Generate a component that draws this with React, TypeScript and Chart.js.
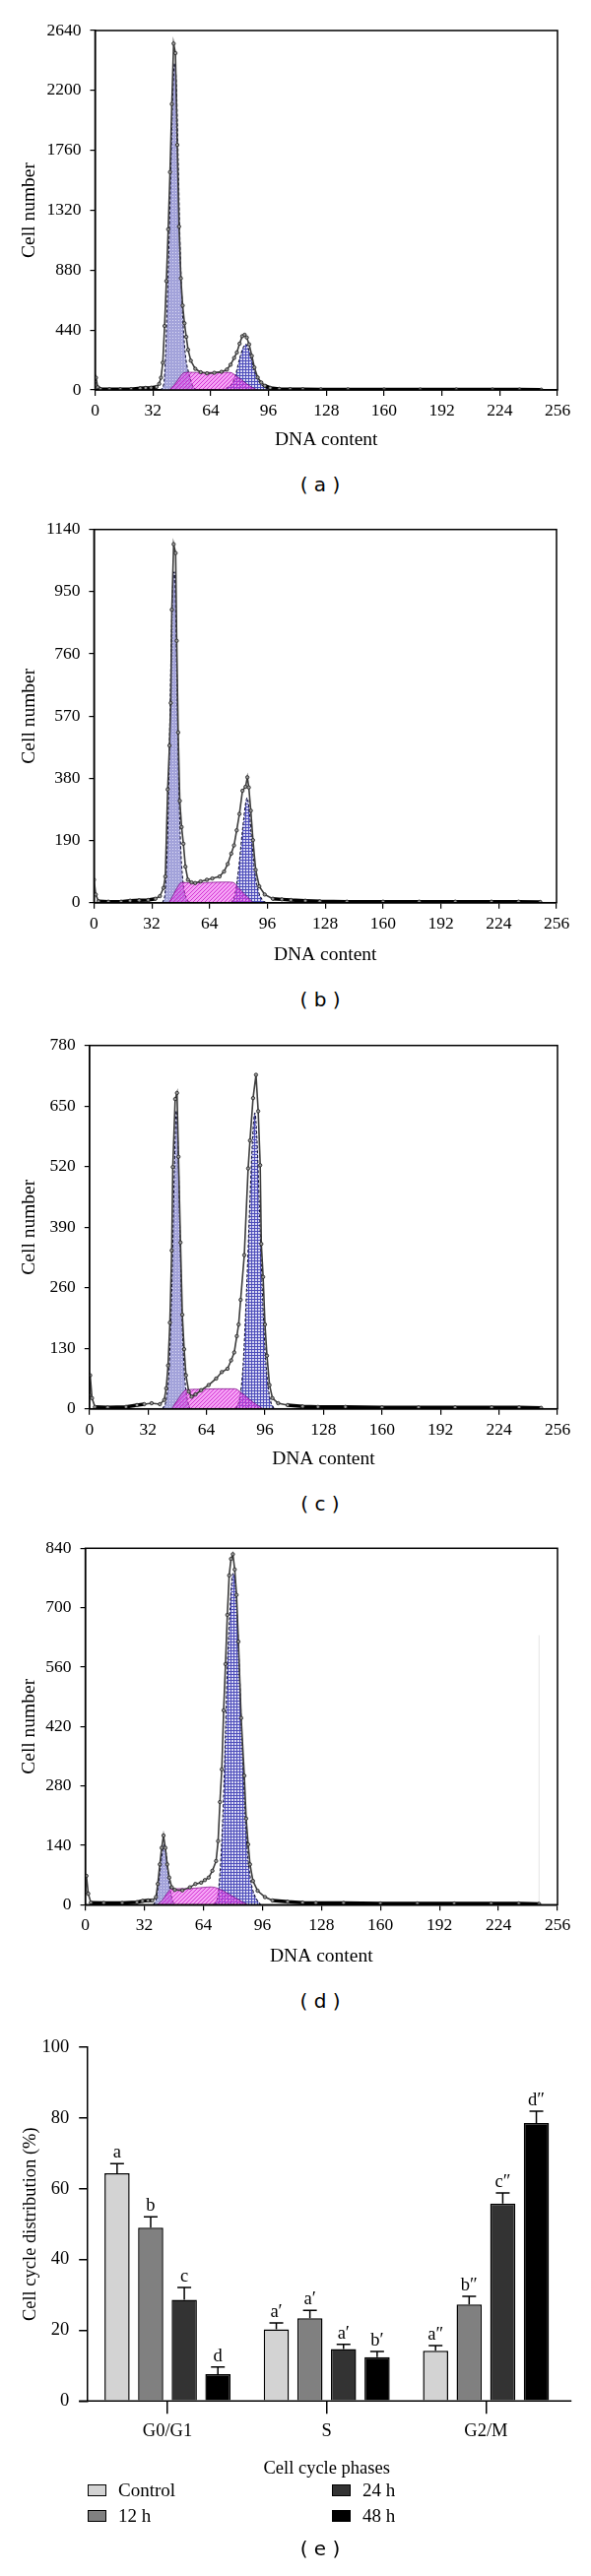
import React, { useEffect, useRef } from "react";
import { Chart, registerables } from "chart.js";
Chart.register(...registerables);

const SERIF = '"Liberation Serif", "Times New Roman", serif';
const SANS = '"DejaVu Sans", Verdana, sans-serif';

// ---------------- axis ticks ----------------
const dnaTicks = [0, 32, 64, 96, 128, 160, 192, 224, 256];
const aCellTicks = [0, 440, 880, 1320, 1760, 2200, 2640];
const bCellTicks = [0, 190, 380, 570, 760, 950, 1140];
const cCellTicks = [0, 130, 260, 390, 520, 650, 780];
const dCellTicks = [0, 140, 280, 420, 560, 700, 840];
const pctTicks = [0, 20, 40, 60, 80, 100];

// ---------------- panel (a) ----------------
const aRawDna = [0, 0.5, 1.5, 3, 8, 14, 20, 25, 28, 31, 34, 35.5, 36.5, 37.5, 38.5, 39.5, 40.5, 41.5, 42.5, 43.5, 44.5, 45.5, 46.5, 47.5, 48.5, 49.5, 50.5, 51.5, 53, 55.5, 58.5, 62, 66, 70, 73, 75, 77, 78.5, 80, 81.5, 82.8, 84, 85.3, 86.8, 88.2, 90, 92, 94, 97, 102, 108, 115, 125, 140, 160, 180, 200, 220, 235, 247];
const aRawCells = [60, 90, 20, 6, 5, 5, 6, 12, 15, 16, 22, 45, 90, 200, 470, 800, 1180, 1600, 2100, 2544, 2474, 1800, 1200, 820, 620, 490, 390, 295, 215, 155, 130, 122, 126, 133, 150, 185, 235, 275, 340, 395, 405, 385, 335, 250, 165, 92, 55, 31, 15, 8, 6, 5, 4, 4, 3, 3, 3, 3, 3, 2];
const aG1Dna = [36, 38, 39, 40, 41, 42, 43, 44, 45, 46, 47, 48, 49, 50, 51, 52, 53, 54, 56];
const aG1Cells = [0, 40, 250, 650, 1100, 1650, 2150, 2400, 2250, 1700, 1100, 700, 430, 260, 170, 120, 70, 30, 0];
const aSDna = [41, 44, 47, 49, 52, 60, 68, 75, 78, 81, 84, 87, 90];
const aSCells = [0, 40, 95, 125, 130, 128, 130, 128, 105, 75, 45, 18, 0];
const aG2Dna = [70, 73, 76, 78, 80, 82, 83.5, 85, 86.5, 88, 90, 92, 95, 98];
const aG2Cells = [0, 15, 50, 120, 230, 310, 335, 300, 230, 150, 80, 40, 12, 0];

// ---------------- panel (b) ----------------
const bRawDna = [0, 1, 2.5, 8, 15, 20, 25, 30, 34, 36.5, 38.5, 39.5, 40.8, 41.8, 42.5, 43.1, 44.1, 45.2, 45.8, 46.6, 47.5, 48.5, 49.5, 50.6, 52, 54, 56, 59, 62.5, 65.5, 69.5, 72, 74, 76, 77.5, 79, 80.5, 82.2, 83.9, 84.9, 85.7, 86.8, 88, 89.5, 91.5, 94.5, 99, 104, 109, 117, 125, 140, 160, 180, 200, 220, 235, 247];
const bRawCells = [70, 25, 4, 3, 3, 6, 7, 8, 12, 20, 45, 80, 346, 480, 610, 895, 1095, 1068, 800, 520, 311, 231, 180, 110, 70, 62, 60, 65, 70, 74, 80, 95, 118, 150, 175, 221, 271, 342, 354, 383, 352, 281, 191, 100, 50, 25, 12, 10, 8, 6, 4, 3, 3, 3, 3, 3, 3, 2];
const bG1Dna = [38, 39.5, 41, 42, 43, 44, 44.5, 45, 46, 47, 48, 49, 50, 52, 53];
const bG1Cells = [0, 40, 250, 550, 850, 1000, 1010, 950, 650, 350, 170, 80, 35, 5, 0];
const bSDna = [41.5, 44, 46.5, 48.5, 56, 64, 72, 77, 80, 83, 86, 88];
const bSCells = [0, 25, 50, 62, 60, 62, 63, 62, 45, 28, 12, 0];
const bG2Dna = [76, 78, 80, 82, 84, 84.8, 86, 87.5, 89, 91, 93, 95];
const bG2Cells = [0, 25, 100, 210, 305, 320, 280, 180, 95, 35, 10, 0];

// ---------------- panel (c) ----------------
const cRawDna = [0, 0.4, 1.4, 3, 10, 20, 26, 30, 34, 38.5, 40.9, 42, 43, 44, 45, 45.6, 46.9, 47.9, 48.7, 49.8, 50.8, 51.8, 52.8, 54.3, 55.9, 58, 61.1, 65.2, 69.3, 72.4, 75.5, 77.5, 79.2, 80.6, 81.6, 82.7, 84.7, 86.8, 87.8, 89.5, 91.1, 92.3, 93.4, 94, 95, 96, 97.1, 98.5, 100.1, 103.2, 108.4, 116.6, 125, 140, 160, 180, 200, 220, 235, 247];
const cRawCells = [30, 72, 23, 4, 3, 4, 8, 10, 12, 10, 19, 44, 93, 185, 340, 519, 665, 678, 541, 357, 202, 128, 72, 37, 26, 31, 40, 51, 65, 79, 86, 104, 121, 156, 181, 234, 330, 516, 576, 667, 717, 639, 523, 354, 283, 181, 114, 51, 23, 12, 8, 5, 4, 4, 3, 3, 3, 3, 3, 2];
const cG1Dna = [40, 42, 43.5, 45, 46.5, 47.5, 48.5, 49.5, 50.5, 51.5, 52.5, 54, 55];
const cG1Cells = [0, 20, 80, 250, 520, 640, 560, 380, 210, 110, 50, 12, 0];
const cSDna = [45, 48, 50.5, 53, 60, 70, 79.5, 83, 87, 91, 95];
const cSCells = [0, 18, 32, 41, 42, 43, 43, 35, 22, 10, 0];
const cG2Dna = [80, 82, 84, 86, 88, 89.5, 90.5, 91.5, 93, 94.5, 96, 97.5, 99, 101];
const cG2Cells = [0, 20, 90, 260, 470, 600, 635, 590, 430, 260, 130, 55, 18, 0];

// ---------------- panel (d) ----------------
const dRawDna = [0, 0.6, 1.6, 3, 10, 20, 28, 31, 34, 36.3, 38.3, 39.3, 40.4, 41.4, 42.4, 43.4, 44.4, 45.5, 46.9, 48.5, 52.6, 56.7, 59.7, 62.8, 64.8, 66.9, 68.9, 70.9, 72, 73, 74, 75, 76, 77, 78, 79, 80, 81, 82, 83, 84.5, 86.2, 87.2, 88.3, 89.3, 90.9, 93.4, 97.4, 101.5, 109.7, 117.8, 125, 140, 160, 180, 200, 220, 235, 246];
const dRawCells = [30, 68, 26, 5, 4, 4, 6, 9, 10, 10, 18, 49, 95, 134, 163, 134, 95, 64, 41, 35, 34, 41, 49, 52, 58, 64, 80, 103, 150, 242, 319, 458, 567, 683, 776, 815, 826, 790, 730, 620, 440, 304, 203, 142, 95, 56, 33, 18, 10, 7, 5, 4, 4, 3, 3, 3, 3, 3, 2];
const dG1Dna = [37, 38.5, 40, 41.5, 42.8, 44, 45, 46, 47.5, 48.5];
const dG1Cells = [0, 15, 60, 115, 142, 115, 70, 35, 8, 0];
const dSDna = [39, 42, 44.5, 46.5, 55, 62, 68, 71, 75, 79, 83, 88];
const dSCells = [0, 12, 28, 37, 38, 40, 42, 40, 32, 22, 12, 0];
const dG2Dna = [70, 72, 74, 75.5, 77, 78.5, 80, 81, 82, 83.5, 85, 86.5, 88, 90, 92, 95];
const dG2Cells = [0, 25, 150, 330, 560, 700, 780, 775, 710, 560, 380, 230, 120, 50, 20, 0];
const dFaintDna = [246, 246];
const dFaintCells = [0, 635];

// ---------------- panel (e) ----------------
const phases = ["G0/G1", "S", "G2/M"];
const groupNames = ["Control", "12 h", "24 h", "48 h"];
const pctControl = [64.4, 20.3, 14.2];
const pct12h = [49.0, 23.4, 27.3];
const pct24h = [28.6, 14.7, 55.8];
const pct48h = [7.6, 12.4, 78.6];
const errControl = [2.7, 1.8, 1.5];
const err12h = [3.1, 2.2, 2.3];
const err24h = [3.5, 1.3, 3.0];
const err48h = [2.0, 1.6, 3.3];
const sigControl = ["a", "a\u2032", "a\u2033"];
const sig12h = ["b", "a\u2032", "b\u2033"];
const sig24h = ["c", "a\u2032", "c\u2033"];
const sig48h = ["d", "b\u2032", "d\u2033"];

const groupColors = ["#d3d3d3", "#808080", "#333333", "#000000"];

type Series = [number[], number[]];

function xy(s: Series) {
  return s[0].map((x, i) => ({ x, y: s[1][i] }));
}

function makePatterns(ctx: CanvasRenderingContext2D) {
  const tile = (w: number, h: number, draw: (c: CanvasRenderingContext2D) => void) => {
    const c = document.createElement("canvas");
    c.width = w;
    c.height = h;
    const cx = c.getContext("2d")!;
    draw(cx);
    return ctx.createPattern(c, "repeat");
  };
  const dots = tile(3, 3, (c) => {
    c.fillStyle = "rgba(155,155,215,0.92)";
    c.fillRect(0, 0, 3, 3);
    c.fillStyle = "rgba(222,222,246,0.95)";
    c.fillRect(1, 1, 1, 1);
  });
  const grid = tile(3, 3, (c) => {
    c.fillStyle = "rgba(205,205,240,0.8)";
    c.fillRect(0, 0, 3, 3);
    c.fillStyle = "rgba(75,75,185,0.95)";
    c.fillRect(0, 0, 3, 1);
    c.fillRect(0, 0, 1, 3);
  });
  const hatch = tile(4, 4, (c) => {
    c.fillStyle = "rgba(235,70,235,0.5)";
    c.fillRect(0, 0, 4, 4);
    c.fillStyle = "rgba(200,20,200,0.75)";
    for (let i = 0; i < 4; i++) c.fillRect(i, 3 - i, 1, 1);
  });
  return { dots, grid, hatch };
}

const boxPlugin = {
  id: "box",
  afterDraw(chart: any) {
    const { ctx, chartArea: a } = chart;
    ctx.save();
    ctx.strokeStyle = "#000";
    ctx.lineWidth = 1.5;
    ctx.strokeRect(a.left, a.top, a.right - a.left, a.bottom - a.top);
    ctx.restore();
  },
};

type HistProps = {
  L: number;
  R: number;
  T: number;
  B: number;
  titleY: number;
  yTicks: number[];
  raw: Series;
  g1: Series;
  s: Series;
  g2: Series;
  faint?: Series;
};

function Histogram(p: HistProps) {
  const ref = useRef<HTMLCanvasElement>(null);
  const canvasTop = Math.round(p.T - 22);
  const canvasH = Math.round(p.titleY + 16 - canvasTop);
  useEffect(() => {
    const cv = ref.current!;
    const ctx = cv.getContext("2d")!;
    const pats = makePatterns(ctx);
    const ymax = p.yTicks[p.yTicks.length - 1];
    const low = ymax * 0.015;
    const datasets: any[] = [
      {
        label: "Data",
        data: xy(p.raw),
        borderColor: "#333",
        borderWidth: 1.6,
        segment: {
          borderWidth: (c: any) => (c.p0.parsed.y <= low && c.p1.parsed.y <= low ? 3.5 : 1.6),
          borderColor: (c: any) => (c.p0.parsed.y <= low && c.p1.parsed.y <= low ? "#000" : "#3c3c3c"),
        },
        pointRadius: 1.7,
        pointBackgroundColor: "#9a9a9a",
        pointBorderColor: "#1c1c1c",
        pointBorderWidth: 0.8,
        fill: false,
        tension: 0,
        order: 0,
      },
      {
        label: "S",
        data: xy(p.s),
        backgroundColor: pats.hatch,
        borderColor: "rgba(110,0,120,0.85)",
        borderWidth: 0.8,
        pointRadius: 0,
        fill: "origin",
        cubicInterpolationMode: "monotone",
        order: 1,
      },
      {
        label: "G0/G1",
        data: xy(p.g1),
        backgroundColor: pats.dots,
        borderColor: "#15153a",
        borderWidth: 1.1,
        borderDash: [3, 2],
        pointRadius: 0,
        fill: "origin",
        cubicInterpolationMode: "monotone",
        order: 2,
      },
      {
        label: "G2/M",
        data: xy(p.g2),
        backgroundColor: pats.grid,
        borderColor: "#15153a",
        borderWidth: 1.1,
        borderDash: [3, 2],
        pointRadius: 0,
        fill: "origin",
        cubicInterpolationMode: "monotone",
        order: 2,
      },
    ];
    if (p.faint) {
      datasets.push({
        label: "",
        data: xy(p.faint),
        borderColor: "#e4e4e4",
        borderWidth: 1,
        pointRadius: 0,
        fill: false,
        order: 3,
      });
    }
    const titleLH = 19.5 * 1.2;
    const chart = new Chart(ctx, {
      type: "line",
      data: { datasets },
      options: {
        responsive: false,
        animation: false,
        devicePixelRatio: 1,
        layout: { padding: { left: 0, right: 600 - p.R, top: p.T - canvasTop, bottom: 0 } },
        plugins: { legend: { display: false }, tooltip: { enabled: false } },
        scales: {
          x: {
            type: "linear",
            min: dnaTicks[0],
            max: dnaTicks[dnaTicks.length - 1],
            afterBuildTicks: (s: any) => {
              s.ticks = dnaTicks.map((v) => ({ value: v }));
            },
            afterFit: (s: any) => {
              s.height = canvasH - (p.B - canvasTop);
            },
            ticks: {
              font: { family: SERIF, size: 17.5 },
              color: "#000",
              padding: 5,
              maxRotation: 0,
              autoSkip: false,
              callback: (v: any) => String(v),
            },
            grid: { drawOnChartArea: false, tickLength: 6, color: "#000", lineWidth: 1.2 },
            border: { color: "#000", width: 1.5 },
            title: {
              display: true,
              text: "DNA content",
              color: "#000",
              font: { family: SERIF, size: 19.5 },
              padding: { top: 0, bottom: canvasH - (p.titleY - canvasTop) - titleLH / 2 },
            },
          },
          y: {
            type: "linear",
            min: p.yTicks[0],
            max: ymax,
            afterBuildTicks: (s: any) => {
              s.ticks = p.yTicks.map((v) => ({ value: v }));
            },
            afterFit: (s: any) => {
              s.width = p.L;
            },
            ticks: {
              font: { family: SERIF, size: 17.5 },
              color: "#000",
              padding: 9,
              autoSkip: false,
              callback: (v: any) => String(v),
            },
            grid: { drawOnChartArea: false, tickLength: 5, color: "#000", lineWidth: 1.2 },
            border: { color: "#000", width: 1.5 },
            title: {
              display: true,
              text: "Cell number",
              color: "#000",
              font: { family: SERIF, size: 19.5 },
              padding: { top: 30 - titleLH / 2, bottom: 0 },
            },
          },
        },
      },
      plugins: [boxPlugin],
    } as any);
    return () => chart.destroy();
  }, []);
  return (
    <canvas
      ref={ref}
      width={600}
      height={canvasH}
      style={{ position: "absolute", left: 0, top: canvasTop, width: 600, height: canvasH }}
    />
  );
}

function BarPanel() {
  const ref = useRef<HTMLCanvasElement>(null);
  const L = 89.2;
  const R = 574.2;
  const T = 2077.3;
  const B = 2438.3;
  const titleY = 2507;
  const canvasTop = 2058;
  const canvasH = Math.round(titleY + 16 - canvasTop);
  useEffect(() => {
    const ctx = ref.current!.getContext("2d")!;
    const values = [pctControl, pct12h, pct24h, pct48h];
    const errs = [errControl, err12h, err24h, err48h];
    const sigs = [sigControl, sig12h, sig24h, sig48h];
    const titleLH = 18.5 * 1.2;
    const errPlugin = {
      id: "errbars",
      afterDatasetsDraw(chart: any) {
        const c = chart.ctx;
        const ys = chart.scales.y;
        const a = chart.chartArea;
        c.save();
        c.strokeStyle = "#000";
        c.lineWidth = 1.5;
        c.fillStyle = "#000";
        c.font = `18.5px ${SERIF}`;
        c.textAlign = "center";
        c.textBaseline = "middle";
        chart.data.datasets.forEach((ds: any, i: number) => {
          const meta = chart.getDatasetMeta(i);
          meta.data.forEach((bar: any, j: number) => {
            const v = ds.data[j];
            const yTop = ys.getPixelForValue(v + errs[i][j]);
            c.beginPath();
            c.moveTo(bar.x, bar.y);
            c.lineTo(bar.x, yTop);
            c.moveTo(bar.x - 7, yTop);
            c.lineTo(bar.x + 7, yTop);
            c.stroke();
            c.fillText(sigs[i][j], bar.x, yTop - 11);
          });
        });
        c.beginPath();
        c.moveTo(a.left - 9, a.bottom);
        c.lineTo(a.right + 6, a.bottom);
        c.stroke();
        c.restore();
      },
    };
    const chart = new Chart(ctx, {
      type: "bar",
      data: {
        labels: phases,
        datasets: groupNames.map((n, i) => ({
          label: n,
          data: values[i],
          backgroundColor: groupColors[i],
          borderColor: "#000",
          borderWidth: 1.5,
          barPercentage: 0.75,
          categoryPercentage: 0.844,
        })),
      },
      options: {
        responsive: false,
        animation: false,
        devicePixelRatio: 1,
        layout: { padding: { left: 0, right: 600 - R, top: T - canvasTop, bottom: 0 } },
        plugins: { legend: { display: false }, tooltip: { enabled: false } },
        scales: {
          x: {
            afterFit: (s: any) => {
              s.height = canvasH - (B - canvasTop);
            },
            ticks: { font: { family: SERIF, size: 18.5 }, color: "#000", padding: 7, maxRotation: 0 },
            grid: { offset: false, drawOnChartArea: false, tickLength: 13, color: "#000", lineWidth: 1.5 },
            border: { display: false },
            title: {
              display: true,
              text: "Cell cycle phases",
              color: "#000",
              font: { family: SERIF, size: 18.5 },
              padding: { top: 0, bottom: canvasH - (titleY - canvasTop) - titleLH / 2 },
            },
          },
          y: {
            min: pctTicks[0],
            max: pctTicks[pctTicks.length - 1],
            afterBuildTicks: (s: any) => {
              s.ticks = pctTicks.map((v) => ({ value: v }));
            },
            afterFit: (s: any) => {
              s.width = L;
            },
            ticks: { font: { family: SERIF, size: 18.5 }, color: "#000", padding: 10, callback: (v: any) => String(v) },
            grid: { drawOnChartArea: false, tickLength: 9, color: "#000", lineWidth: 1.5 },
            border: { color: "#000", width: 1.5 },
            title: {
              display: true,
              text: "Cell cycle distribution (%)",
              color: "#000",
              font: { family: SERIF, size: 18.5 },
              padding: { top: 31 - titleLH / 2, bottom: 0 },
            },
          },
        },
      },
      plugins: [errPlugin],
    } as any);
    return () => chart.destroy();
  }, []);
  return (
    <canvas
      ref={ref}
      width={600}
      height={canvasH}
      style={{ position: "absolute", left: 0, top: canvasTop, width: 600, height: canvasH }}
    />
  );
}

function PanelLabel({ text, y }: { text: string; y: number }) {
  return (
    <div
      style={{
        position: "absolute",
        left: 225,
        width: 200,
        top: y - 13,
        height: 26,
        lineHeight: "26px",
        textAlign: "center",
        fontFamily: SANS,
        fontSize: 20,
        color: "#000",
        whiteSpace: "pre",
      }}
    >
      {text}
    </div>
  );
}

function LegendItem({ x, y, color, text }: { x: number; y: number; color: string; text: string }) {
  return (
    <>
      <div
        style={{
          position: "absolute",
          left: x,
          top: y - 6,
          width: 19,
          height: 12,
          background: color,
          border: "1.5px solid #000",
          boxSizing: "border-box",
        }}
      />
      <div
        style={{
          position: "absolute",
          left: x + 31,
          top: y - 12,
          height: 24,
          lineHeight: "24px",
          fontFamily: SERIF,
          fontSize: 19,
          color: "#000",
          whiteSpace: "nowrap",
        }}
      >
        {text}
      </div>
    </>
  );
}

export default function App() {
  return (
    <div style={{ position: "absolute", left: 0, top: 0, width: 600, height: 2616, background: "#fff", overflow: "hidden" }}>
      <Histogram
        L={96.5}
        R={566}
        T={31}
        B={396}
        titleY={447}
        yTicks={aCellTicks}
        raw={[aRawDna, aRawCells]}
        g1={[aG1Dna, aG1Cells]}
        s={[aSDna, aSCells]}
        g2={[aG2Dna, aG2Cells]}
      />
      <PanelLabel text="( a )" y={492} />
      <Histogram
        L={95.4}
        R={565}
        T={537.7}
        B={916.7}
        titleY={970}
        yTicks={bCellTicks}
        raw={[bRawDna, bRawCells]}
        g1={[bG1Dna, bG1Cells]}
        s={[bSDna, bSCells]}
        g2={[bG2Dna, bG2Cells]}
      />
      <PanelLabel text="( b )" y={1015} />
      <Histogram
        L={90.8}
        R={566}
        T={1061.7}
        B={1430.7}
        titleY={1481.7}
        yTicks={cCellTicks}
        raw={[cRawDna, cRawCells]}
        g1={[cG1Dna, cG1Cells]}
        s={[cSDna, cSCells]}
        g2={[cG2Dna, cG2Cells]}
      />
      <PanelLabel text="( c )" y={1527} />
      <Histogram
        L={86.6}
        R={566}
        T={1572.3}
        B={1934.3}
        titleY={1986.7}
        yTicks={dCellTicks}
        raw={[dRawDna, dRawCells]}
        g1={[dG1Dna, dG1Cells]}
        s={[dSDna, dSCells]}
        g2={[dG2Dna, dG2Cells]}
        faint={[dFaintDna, dFaintCells]}
      />
      <PanelLabel text="( d )" y={2032} />
      <BarPanel />
      <LegendItem x={89} y={2529} color={groupColors[0]} text={groupNames[0]} />
      <LegendItem x={89} y={2555} color={groupColors[1]} text={groupNames[1]} />
      <LegendItem x={337} y={2529} color={groupColors[2]} text={groupNames[2]} />
      <LegendItem x={337} y={2555} color={groupColors[3]} text={groupNames[3]} />
      <PanelLabel text="( e )" y={2588} />
    </div>
  );
}
